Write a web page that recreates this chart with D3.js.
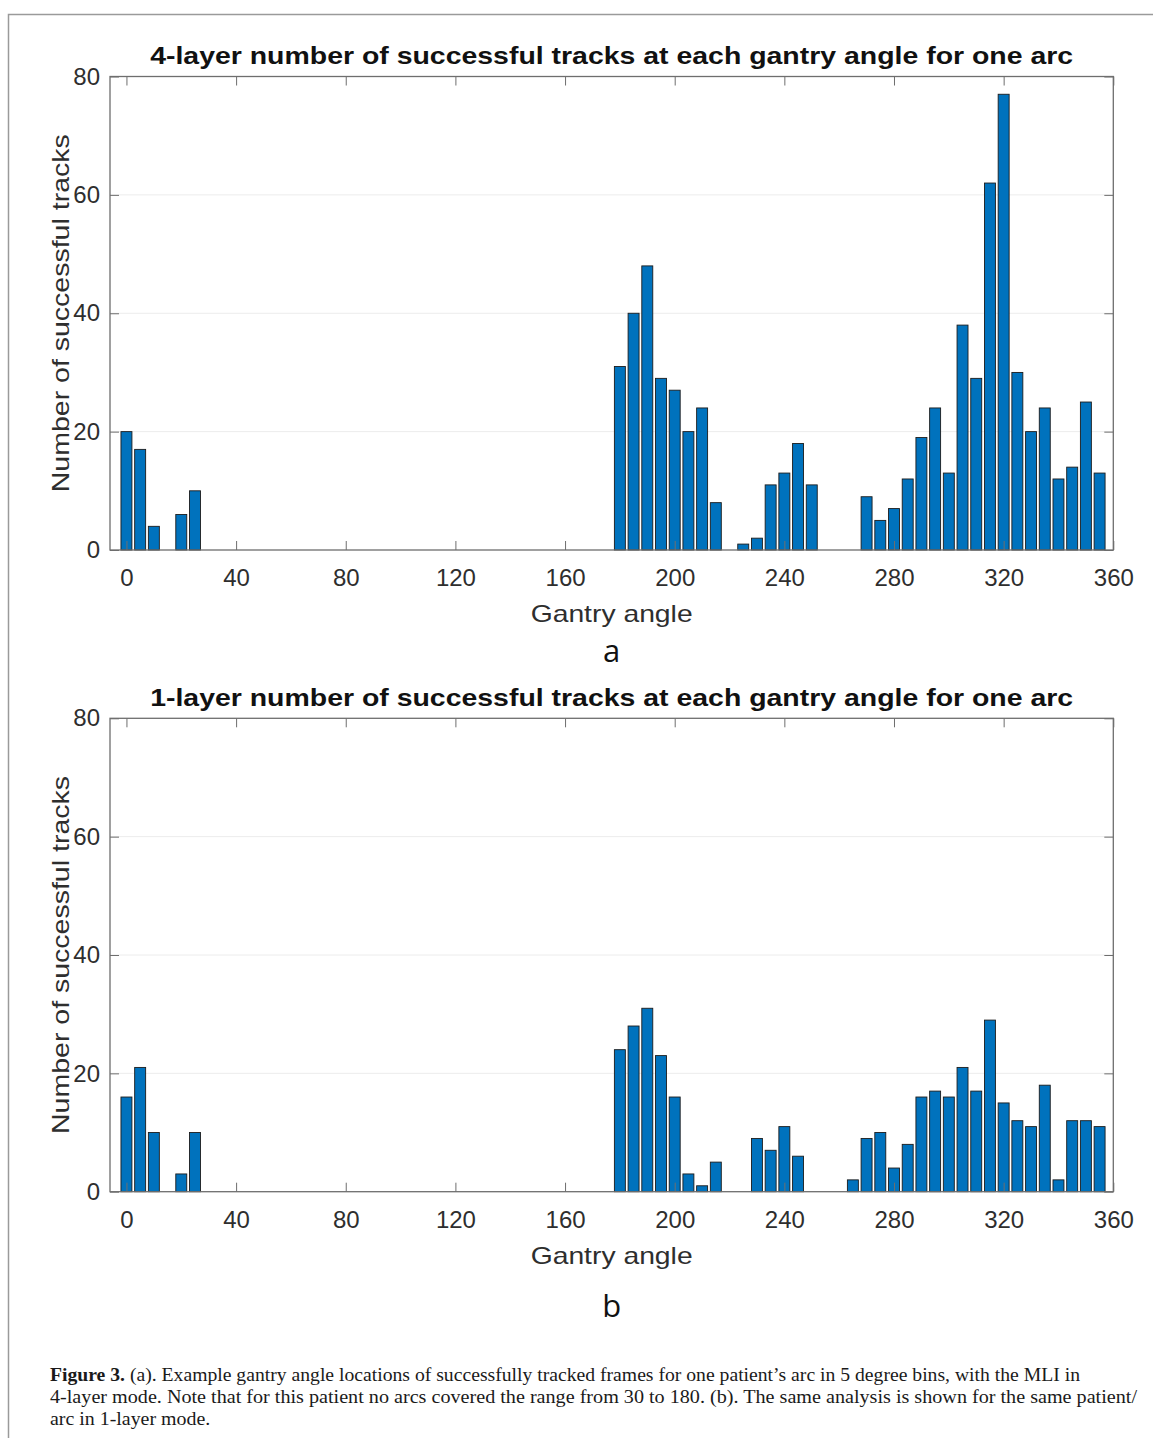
<!DOCTYPE html>
<html>
<head>
<meta charset="utf-8">
<script src="https://cdn.jsdelivr.net/npm/d3@7"></script>
<style>
  body { margin: 0; background: #fff; }
  svg { display: block; }
</style>
</head>
<body>
<svg id="fig" width="1153" height="1438"></svg>
<script>
// Gantry-angle bins (5 degree bins, centre values)
const angles = [
  0, 5, 10, 15, 20, 25, 30, 35, 40, 45, 50, 55, 60, 65, 70, 75, 80, 85,
  90, 95, 100, 105, 110, 115, 120, 125, 130, 135, 140, 145, 150, 155, 160, 165, 170, 175,
  180, 185, 190, 195, 200, 205, 210, 215, 220, 225, 230, 235, 240, 245, 250, 255, 260, 265,
  270, 275, 280, 285, 290, 295, 300, 305, 310, 315, 320, 325, 330, 335, 340, 345, 350, 355
];

// Successful tracks per bin, MLI in 4-layer mode
const tracks4Layer = [
  20, 17, 4, 0, 6, 10, 0, 0, 0, 0, 0, 0, 0, 0, 0, 0, 0, 0,
  0, 0, 0, 0, 0, 0, 0, 0, 0, 0, 0, 0, 0, 0, 0, 0, 0, 0,
  31, 40, 48, 29, 27, 20, 24, 8, 0, 1, 2, 11, 13, 18, 11, 0, 0, 0,
  9, 5, 7, 12, 19, 24, 13, 38, 29, 62, 77, 30, 20, 24, 12, 14, 25, 13
];

// Successful tracks per bin, MLI in 1-layer mode
const tracks1Layer = [
  16, 21, 10, 0, 3, 10, 0, 0, 0, 0, 0, 0, 0, 0, 0, 0, 0, 0,
  0, 0, 0, 0, 0, 0, 0, 0, 0, 0, 0, 0, 0, 0, 0, 0, 0, 0,
  24, 28, 31, 23, 16, 3, 1, 5, 0, 0, 9, 7, 11, 6, 0, 0, 0, 2,
  9, 10, 4, 8, 16, 17, 16, 21, 17, 29, 15, 12, 11, 18, 2, 12, 12, 11
];

const xTicks = [0, 40, 80, 120, 160, 200, 240, 280, 320, 360];
const yTicks = [0, 20, 40, 60, 80];
const xLimits = [-6, 360];
const yLimits = [0, 80];
const binWidth = 4; // bar width in degrees (0.8 of a 5 degree bin)

const panels = [
  { title: "4-layer number of successful tracks at each gantry angle for one arc",
    values: tracks4Layer, tag: "a", top: 76.5, bottom: 550, tagY: 662 },
  { title: "1-layer number of successful tracks at each gantry angle for one arc",
    values: tracks1Layer, tag: "b", top: 718.3, bottom: 1191.7, tagY: 1317 }
];

const captionLines = [
  [["Figure 3.", true], [" (a). Example gantry angle locations of successfully tracked frames for one patient\u2019s arc in 5 degree bins, with the MLI in", false]],
  [["4-layer mode. Note that for this patient no arcs covered the range from 30 to 180. (b). The same analysis is shown for the same patient/", false]],
  [["arc in 1-layer mode.", false]]
];
const captionWidths = [1030, 1087, null];

const svg = d3.select("#fig");
const W = 1153, H = 1438;
const left = 110, right = 1113.3;
const sans = "'Liberation Sans', Arial, Helvetica, sans-serif";
const textColor = "#2e2e2e";
const axisColor = "#6e6e6e";

svg.append("rect").attr("width", W).attr("height", H).attr("fill", "#fff");

// page frame (left and top rules)
svg.append("path")
  .attr("d", `M8.5,${H} L8.5,14.5 L${W},14.5`)
  .attr("fill", "none").attr("stroke", "#9a9a9a").attr("stroke-width", 1.5);

const x = d3.scaleLinear().domain(xLimits).range([left, right]);

panels.forEach(p => {
  const y = d3.scaleLinear().domain(yLimits).range([p.bottom, p.top]);
  const g = svg.append("g");

  // horizontal grid
  g.append("g").selectAll("line")
    .data(yTicks.filter(t => t > yLimits[0] && t < yLimits[1]))
    .join("line")
    .attr("x1", left).attr("x2", right)
    .attr("y1", d => y(d)).attr("y2", d => y(d))
    .attr("stroke", "#ececec").attr("stroke-width", 1);

  // bars
  const data = angles.map((a, i) => ({ angle: a, value: p.values[i] })).filter(d => d.value > 0);
  g.append("g").selectAll("rect")
    .data(data)
    .join("rect")
    .attr("x", d => x(d.angle - binWidth / 2))
    .attr("width", d => x(d.angle + binWidth / 2) - x(d.angle - binWidth / 2))
    .attr("y", d => y(d.value))
    .attr("height", d => y(0) - y(d.value))
    .attr("fill", "#0072BD")
    .attr("stroke", "#1c1c1c")
    .attr("stroke-width", 0.9);

  // axes with inward ticks on all four sides
  const styleAxis = sel => {
    sel.select(".domain").remove();
    sel.selectAll(".tick line").attr("stroke", axisColor).attr("stroke-width", 1);
    sel.selectAll(".tick text")
      .attr("fill", textColor)
      .style("font-family", sans)
      .style("font-size", "24px");
  };

  g.append("g")
    .attr("transform", `translate(0,${p.bottom})`)
    .call(d3.axisBottom(x).tickValues(xTicks).tickSize(-9).tickPadding(19).tickFormat(d3.format("d")))
    .call(styleAxis);

  g.append("g")
    .attr("transform", `translate(0,${p.top})`)
    .call(d3.axisTop(x).tickValues(xTicks).tickSize(-9).tickFormat(""))
    .call(styleAxis);

  g.append("g")
    .attr("transform", `translate(${left},0)`)
    .call(d3.axisLeft(y).tickValues(yTicks).tickSize(-9).tickPadding(10).tickFormat(d3.format("d")))
    .call(styleAxis);

  g.append("g")
    .attr("transform", `translate(${right},0)`)
    .call(d3.axisRight(y).tickValues(yTicks).tickSize(-9).tickFormat(""))
    .call(styleAxis);

  // axes box
  g.append("rect")
    .attr("x", left).attr("y", p.top)
    .attr("width", right - left).attr("height", p.bottom - p.top)
    .attr("fill", "none").attr("stroke", axisColor).attr("stroke-width", 1.3);

  const cx = (left + right) / 2;

  // title
  g.append("text")
    .attr("x", cx).attr("y", p.top - 12.5)
    .attr("text-anchor", "middle")
    .attr("fill", "#111")
    .attr("textLength", 923).attr("lengthAdjust", "spacingAndGlyphs")
    .style("font-family", sans).style("font-size", "24px").style("font-weight", "bold")
    .text(p.title);

  // x-axis label
  g.append("text")
    .attr("x", cx).attr("y", p.bottom + 72)
    .attr("text-anchor", "middle")
    .attr("fill", textColor)
    .attr("textLength", 162).attr("lengthAdjust", "spacingAndGlyphs")
    .style("font-family", sans).style("font-size", "24px")
    .text("Gantry angle");

  // y-axis label
  g.append("text")
    .attr("transform", `translate(69,${(p.top + p.bottom) / 2}) rotate(-90)`)
    .attr("text-anchor", "middle")
    .attr("fill", textColor)
    .attr("textLength", 358).attr("lengthAdjust", "spacingAndGlyphs")
    .style("font-family", sans).style("font-size", "24px")
    .text("Number of successful tracks");

  // panel tag
  g.append("text")
    .attr("x", cx).attr("y", p.tagY)
    .attr("text-anchor", "middle")
    .attr("fill", "#111")
    .style("font-family", "'Open Sans', 'Noto Sans', sans-serif").style("font-size", "31px")
    .text(p.tag);
});

// caption, set in a condensed serif
const cap = svg.append("g").attr("transform", "translate(50,0)");
const capTexts = captionLines.map((parts, i) => {
  const t = cap.append("text")
    .attr("x", 0).attr("y", 1381 + i * 22)
    .attr("fill", "#1a1a1a")
    .style("font-family", "'Liberation Serif', 'DejaVu Serif', serif")
    .style("font-size", "19px");
  parts.forEach(([s, bold]) => t.append("tspan").style("font-weight", bold ? "bold" : "normal").text(s));
  return t;
});
const ratios = [];
capTexts.forEach((t, i) => {
  if (captionWidths[i]) {
    const natural = t.node().getComputedTextLength();
    ratios.push(captionWidths[i] / natural);
    t.attr("textLength", captionWidths[i]).attr("lengthAdjust", "spacingAndGlyphs");
  }
});
const meanRatio = d3.mean(ratios);
capTexts.forEach((t, i) => {
  if (!captionWidths[i]) {
    const natural = t.node().getComputedTextLength();
    t.attr("textLength", natural * meanRatio).attr("lengthAdjust", "spacingAndGlyphs");
  }
});
</script>
</body>
</html>
